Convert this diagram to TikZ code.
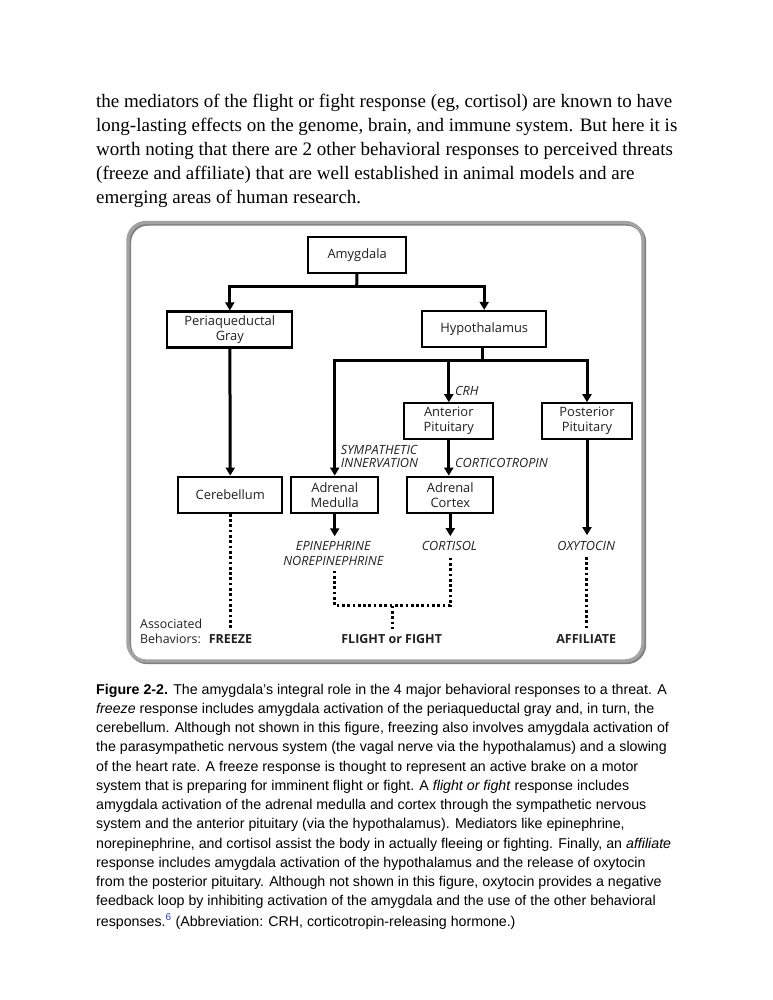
\documentclass[tikz,border=0pt]{standalone}
\usepackage{fontspec}
\setmainfont{Liberation Serif}
\newfontfamily\capfont{Liberation Sans}
\newfontfamily\diafont{Open Sans}
\usetikzlibrary{arrows.meta}
\definecolor{txt}{gray}{0.13}
\definecolor{panelc}{gray}{0.64}
\definecolor{panels}{gray}{0.50}
\definecolor{refblue}{RGB}{40,60,170}
\tikzset{
  body/.style={anchor=base west, inner sep=0pt, font=\fontsize{19.0}{20}\selectfont},
  capl/.style={anchor=base west, inner sep=0pt, font=\capfont\fontsize{14.2}{16}\selectfont},
  box/.style={draw=black, line width=2.2pt, font=\diafont\fontsize{12.9}{15}\selectfont, text=txt, align=center, inner sep=0pt, minimum height=36pt},
  ln/.style={line width=3pt},
  arr/.style={line width=3pt, -{Triangle[length=8pt,width=9pt]}},
  dots/.style={line width=3pt, dash pattern=on 2.7pt off 2.6pt},
  lab/.style={font=\diafont\itshape\fontsize{12.7}{13.3}\selectfont, text=txt, inner sep=0pt},
  outl/.style={font=\diafont\itshape\fontsize{12.7}{14.7}\selectfont, text=txt, inner xsep=0pt, inner ysep=5pt, align=center},
  beh/.style={font=\diafont\bfseries\fontsize{12.5}{15}\selectfont, text=txt, inner xsep=0pt, inner ysep=6pt},
  ass/.style={font=\diafont\fontsize{12.4}{15}\selectfont, text=txt, inner sep=0pt, anchor=west}
}
\begin{document}
\begin{tikzpicture}[x=1pt,y=-1pt]
\useasboundingbox (0,0) rectangle (772,1000);
\fill[white] (0,0) rectangle (772,1000);

% top paragraph
\node[body] (t1) at (96,108) {the mediators of the flight or fight response (eg, cortisol) are known to have};
\node[body] (t2) at (96,132) {long-lasting effects on the genome, brain, and immune system. But here it is};
\node[body] (t3) at (96,156) {worth noting that there are 2 other behavioral responses to perceived threats};
\node[body] (t4) at (96,180) {(freeze and affiliate) that are well established in animal models and are};
\node[body] (t5) at (96,204) {emerging areas of human research.};

% panel
\draw[line width=3.4pt, panels, rounded corners=18pt] (129.5,224) rectangle (644.5,662.5);
\draw[line width=3.4pt, panelc, rounded corners=18pt] (128,222.5) rectangle (643,661);

% boxes
\node[box, minimum width=97.7pt] (amyg) at (357.2,255) {Amygdala};
\node[box, minimum width=125pt] (pag) at (229.8,329.5) {Periaqueductal\\Gray};
\node[box, minimum width=123.7pt] (hyp) at (484.2,329) {Hypothalamus};
\node[box, minimum width=89pt] (ap) at (448.8,421.3) {Anterior\\Pituitary};
\node[box, minimum width=89.4pt] (pp) at (587,421.3) {Posterior\\Pituitary};
\node[box, minimum width=104pt] (cer) at (230.3,494.7) {Cerebellum};
\node[box, minimum width=87.3pt] (am) at (334.7,494.7) {Adrenal\\Medulla};
\node[box, minimum width=86pt] (ac) at (450.3,494.7) {Adrenal\\Cortex};

% output labels
\node[outl] (epi) at (333.3,553.4) {EPINEPHRINE\\NOREPINEPHRINE};
\node[outl] (cort) at (449.4,546) {CORTISOL};
\node[outl, inner ysep=6pt] (oxy) at (586.2,546) {OXYTOCIN};

% arrow labels
\node[lab, anchor=west] (crh) at (455,390.7) {CRH};
\node[lab, anchor=west, align=left] (symp) at (340.7,456.7) {SYMPATHETIC\\INNERVATION};
\node[lab, anchor=west] (cortico) at (455,463.3) {CORTICOTROPIN};

% behaviors
\node[ass] (assoc) at (140,624.3) {Associated};
\node[ass] (behv) at (140,639.3) {Behaviors:};
\node[beh] (freeze) at (230.5,639.3) {FREEZE};
\node[beh] (flight) at (391.7,639.3) {FLIGHT or FIGHT};
\node[beh] (affil) at (586.2,639.3) {AFFILIATE};

% connectors
\coordinate (j1) at (356.7,286.7);
\draw[ln] (amyg) -- (j1);
\draw[arr] (j1) -| (pag.north);
\draw[arr] (j1) -| (hyp.north);
\coordinate (j2) at (482.7,360);
\draw[ln] (hyp.south -| j2) -- (j2);
\draw[arr] (j2) -| (am.north);
\draw[arr] (j2) -| (ap.north);
\draw[arr] (j2) -| (pp.north);
\draw[arr] (pag) -- (cer);
\draw[arr] (ap) -- (ap |- ac.north);
\draw[arr] (am) -- (am |- epi.north);
\draw[arr] (ac) -- (ac |- cort.north);
\draw[arr] (pp) -- (pp |- oxy.north);

\coordinate (jd) at (392.7,605.7);
\draw[dots] (am |- epi.south) |- (jd) -| (ac |- cort.south);
\draw[dots] (jd) -- (jd |- flight.north);
\draw[dots] (cer) -- (cer |- freeze.north);
\draw[dots] (oxy) -- (oxy |- affil.north);

% caption
\node[capl] (c1) at (96,694) {\textbf{Figure 2-2.} The amygdala’s integral role in the 4 major behavioral responses to a threat. A};
\node[capl] (c2) at (96,713.25) {\textit{freeze} response includes amygdala activation of the periaqueductal gray and, in turn, the};
\node[capl] (c3) at (96,732.5) {cerebellum. Although not shown in this figure, freezing also involves amygdala activation of};
\node[capl] (c4) at (96,751.75) {the parasympathetic nervous system (the vagal nerve via the hypothalamus) and a slowing};
\node[capl] (c5) at (96,771) {of the heart rate. A freeze response is thought to represent an active brake on a motor};
\node[capl] (c6) at (96,790.25) {system that is preparing for imminent flight or fight. A \textit{flight or fight} response includes};
\node[capl] (c7) at (96,809.5) {amygdala activation of the adrenal medulla and cortex through the sympathetic nervous};
\node[capl] (c8) at (96,828.75) {system and the anterior pituitary (via the hypothalamus). Mediators like epinephrine,};
\node[capl] (c9) at (96,848) {norepinephrine, and cortisol assist the body in actually fleeing or fighting. Finally, an \textit{affiliate}};
\node[capl] (c10) at (96,867.25) {response includes amygdala activation of the hypothalamus and the release of oxytocin};
\node[capl] (c11) at (96,886.5) {from the posterior pituitary. Although not shown in this figure, oxytocin provides a negative};
\node[capl] (c12) at (96,905.75) {feedback loop by inhibiting activation of the amygdala and the use of the other behavioral};
\node[capl] (c13) at (96,926) {responses.\textsuperscript{\color{refblue}6} (Abbreviation: CRH, corticotropin-releasing hormone.)};
\end{tikzpicture}
\end{document}
